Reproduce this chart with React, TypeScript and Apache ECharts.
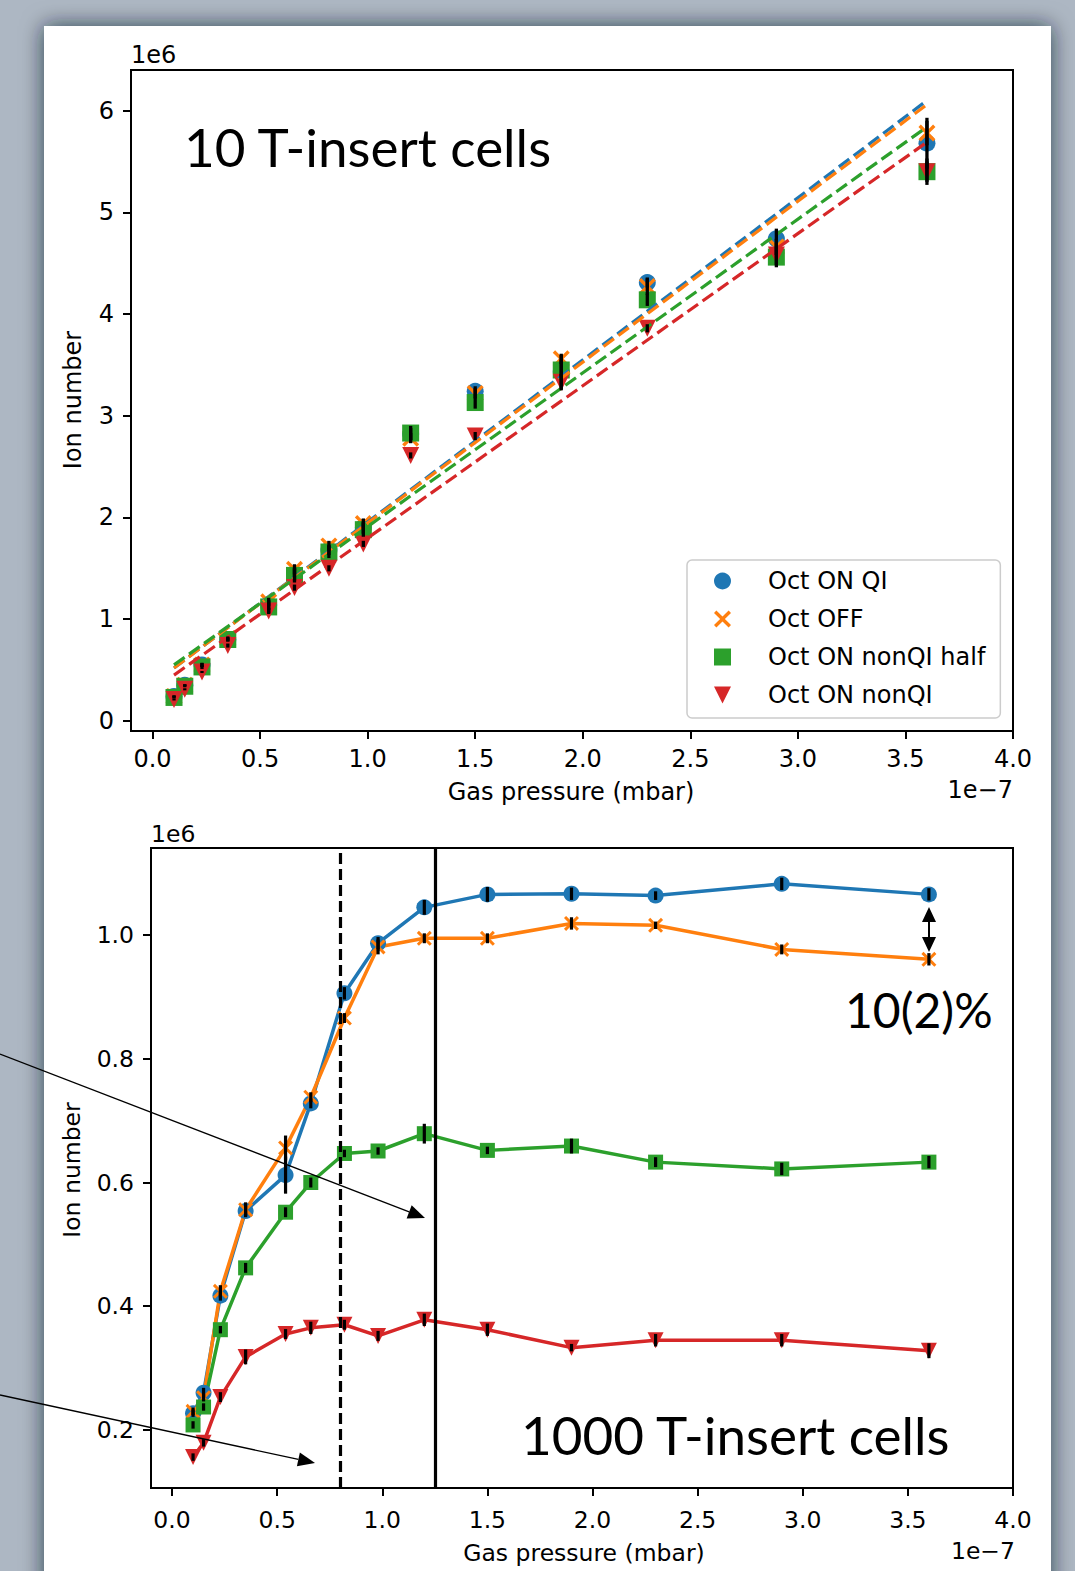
import React, { useEffect, useRef } from "react";
import * as echarts from "echarts";

// Gas pressure, in units of 1e-7 mbar (shared by both panels)
const pressure = [0.1, 0.15, 0.23, 0.35, 0.54, 0.66, 0.82, 0.98, 1.2, 1.5, 1.9, 2.3, 2.9, 3.6];

const seriesNames = ["Oct ON QI", "Oct OFF", "Oct ON nonQI half", "Oct ON nonQI"];

// Panel 1: 10 T-insert cells (ion number, units of 1e6)
const qi10 = [0.24, 0.35, 0.55, 0.8, 1.14, 1.44, 1.68, 1.9, 2.82, 3.24, 3.43, 4.31, 4.74, 5.68];
const off10 = [0.24, 0.35, 0.55, 0.81, 1.17, 1.49, 1.72, 1.94, 2.78, 3.22, 3.56, 4.27, 4.66, 5.78];
const half10 = [0.23, 0.34, 0.53, 0.8, 1.12, 1.43, 1.66, 1.88, 2.83, 3.13, 3.45, 4.14, 4.56, 5.4];
const non10 = [0.21, 0.31, 0.48, 0.74, 1.08, 1.31, 1.5, 1.74, 2.61, 2.8, 3.33, 3.86, 4.58, 5.4];

const qi10Err = [0.01, 0.01, 0.02, 0.02, 0.05, 0.06, 0.05, 0.06, 0.06, 0.05, 0.17, 0.05, 0.1, 0.25];
const off10Err = [0.01, 0.01, 0.02, 0.02, 0.04, 0.05, 0.05, 0.05, 0.05, 0.05, 0.05, 0.08, 0.08, 0.12];
const half10Err = [0.01, 0.01, 0.02, 0.02, 0.06, 0.07, 0.06, 0.07, 0.07, 0.06, 0.1, 0.06, 0.08, 0.1];
const non10Err = [0.01, 0.01, 0.01, 0.02, 0.03, 0.03, 0.03, 0.03, 0.03, 0.04, 0.08, 0.04, 0.12, 0.13];

// Linear fits (end points) for panel 1
const fitPressure = [0.1, 3.6];
const fitQI10 = [0.52, 6.1];
const fitOFF10 = [0.52, 6.06];
const fitHALF10 = [0.55, 5.84];
const fitNON10 = [0.45, 5.69];

// Panel 2: 1000 T-insert cells (ion number, units of 1e6)
const qi1000 = [0.227, 0.26, 0.417, 0.554, 0.612, 0.728, 0.906, 0.987, 1.045, 1.066, 1.067, 1.064, 1.083, 1.066];
const off1000 = [0.23, 0.252, 0.424, 0.556, 0.656, 0.738, 0.866, 0.981, 0.995, 0.995, 1.019, 1.016, 0.977, 0.961];
const half1000 = [0.208, 0.237, 0.362, 0.462, 0.552, 0.6, 0.647, 0.651, 0.679, 0.652, 0.659, 0.633, 0.622, 0.633];
const non1000 = [0.156, 0.179, 0.253, 0.318, 0.355, 0.365, 0.37, 0.352, 0.378, 0.362, 0.333, 0.345, 0.345, 0.328];

const qi1000Err = [0.006, 0.008, 0.008, 0.008, 0.03, 0.008, 0.01, 0.01, 0.012, 0.012, 0.01, 0.007, 0.01, 0.01];
const off1000Err = [0.006, 0.006, 0.01, 0.012, 0.02, 0.008, 0.008, 0.012, 0.008, 0.008, 0.01, 0.006, 0.008, 0.01];
const half1000Err = [0.006, 0.006, 0.006, 0.008, 0.008, 0.008, 0.006, 0.006, 0.016, 0.006, 0.012, 0.008, 0.01, 0.01];
const non1000Err = [0.006, 0.006, 0.008, 0.012, 0.008, 0.01, 0.008, 0.008, 0.01, 0.01, 0.006, 0.01, 0.01, 0.012];

// Vertical reference lines in panel 2 (1e-7 mbar)
const dashedMarker = 0.8;
const solidMarker = 1.25;

// Tick values
const xTicks = [0, 0.5, 1.0, 1.5, 2.0, 2.5, 3.0, 3.5, 4.0];
const yTicksTop = [0, 1, 2, 3, 4, 5, 6];
const yTicksBottom = [0.2, 0.4, 0.6, 0.8, 1.0];

const COLORS = ["#1f77b4", "#ff7f0e", "#2ca02c", "#d62728"];
const X_PATH = "path://M0,1.4L1.4,0L5,3.6L8.6,0L10,1.4L6.4,5L10,8.6L8.6,10L5,6.4L1.4,10L0,8.6L3.6,5Z";
const TRI_DOWN = "path://M0,0L10,0L5,10Z";
const SYMBOLS = ["circle", X_PATH, "rect", TRI_DOWN];
const TICK_FONT = "DejaVu Sans";
const SLIDE_FONT = "Lato";

function errSeries(idx: number, ys: number[], es: number[], lw: number) {
  return {
    type: "custom",
    name: "err" + idx,
    xAxisIndex: idx,
    yAxisIndex: idx,
    silent: true,
    z: 4,
    data: pressure.map((x, i) => [x, ys[i], es[i]]),
    encode: { x: 0, y: 1 },
    renderItem: (params: any, api: any) => {
      const x = api.value(0);
      const y = api.value(1);
      const e = api.value(2);
      const p1 = api.coord([x, y + e]);
      const p2 = api.coord([x, y - e]);
      return {
        type: "line",
        shape: { x1: p1[0], y1: p1[1], x2: p2[0], y2: p2[1] },
        style: { stroke: "#000", lineWidth: lw },
      };
    },
  };
}

function makeXAxis(gridIndex: number, fontSize: number, margin: number) {
  return {
    gridIndex,
    type: "value",
    min: -0.1,
    max: 4.0,
    axisLine: { show: true, onZero: false, lineStyle: { color: "#000", width: 2 } },
    axisTick: { show: true, length: 8, customValues: xTicks, lineStyle: { color: "#000", width: 2 } },
    axisLabel: {
      customValues: xTicks,
      formatter: (v: number) => v.toFixed(1),
      fontFamily: TICK_FONT,
      fontSize,
      color: "#000",
      margin,
    },
    splitLine: { show: false },
  };
}

function makeYAxis(gridIndex: number, min: number, max: number, ticks: number[], digits: number, fontSize: number, margin: number) {
  return {
    gridIndex,
    type: "value",
    min,
    max,
    axisLine: { show: true, onZero: false, lineStyle: { color: "#000", width: 2 } },
    axisTick: { show: true, length: 8, customValues: ticks, lineStyle: { color: "#000", width: 2 } },
    axisLabel: {
      customValues: ticks,
      formatter: (v: number) => v.toFixed(digits),
      fontFamily: TICK_FONT,
      fontSize,
      color: "#000",
      margin,
    },
    splitLine: { show: false },
  };
}

function txt(x: number, y: number, text: string, size: number, family: string, align: string, extra: any = {}) {
  return {
    type: "text",
    z: 60,
    x,
    y,
    silent: true,
    ...extra,
    style: {
      text,
      fontSize: size,
      fontFamily: family,
      fill: "#000",
      textAlign: align,
      align,
      textVerticalAlign: "middle",
      verticalAlign: "middle",
    },
  };
}

function arrowHead(tip: number[], from: number[], len: number, half: number) {
  const dx = tip[0] - from[0];
  const dy = tip[1] - from[1];
  const L = Math.sqrt(dx * dx + dy * dy);
  const ux = dx / L;
  const uy = dy / L;
  const bx = tip[0] - ux * len;
  const by = tip[1] - uy * len;
  return {
    base: [bx, by],
    points: [
      [tip[0], tip[1]],
      [bx - uy * half, by + ux * half],
      [bx + uy * half, by - ux * half],
    ],
  };
}

function arrow(from: number[], tip: number[], lw: number, len: number, half: number) {
  const h = arrowHead(tip, from, len, half);
  return [
    { type: "line", z: 70, silent: true, shape: { x1: from[0], y1: from[1], x2: h.base[0], y2: h.base[1] }, style: { stroke: "#000", lineWidth: lw } },
    { type: "polygon", z: 70, silent: true, shape: { points: h.points }, style: { fill: "#000" } },
  ];
}

function buildOption() {
  const topVals = [qi10, off10, half10, non10];
  const topErrs = [qi10Err, off10Err, half10Err, non10Err];
  const topFits = [fitQI10, fitOFF10, fitHALF10, fitNON10];
  const botVals = [qi1000, off1000, half1000, non1000];
  const botErrs = [qi1000Err, off1000Err, half1000Err, non1000Err];
  const botSizes = [16, 15, 15, 16];

  const series: any[] = [];
  for (let i = 0; i < 4; i++) {
    series.push({
      type: "scatter",
      name: seriesNames[i],
      xAxisIndex: 0,
      yAxisIndex: 0,
      data: pressure.map((x, j) => [x, topVals[i][j]]),
      symbol: SYMBOLS[i],
      symbolSize: 17,
      symbolKeepAspect: true,
      itemStyle: { color: COLORS[i], opacity: 1 },
      silent: true,
    });
    series.push(errSeries(0, topVals[i], topErrs[i], 3.3));
  }
  for (let i = 0; i < 4; i++) {
    series.push({
      type: "line",
      name: "fit " + seriesNames[i],
      xAxisIndex: 0,
      yAxisIndex: 0,
      data: fitPressure.map((x, j) => [x, topFits[i][j]]),
      symbol: "none",
      showSymbol: false,
      silent: true,
      z: 3,
      lineStyle: { color: COLORS[i], width: 3.2, type: [13, 5.5] },
    });
  }
  for (let i = 0; i < 4; i++) {
    series.push({
      type: "line",
      name: seriesNames[i],
      xAxisIndex: 1,
      yAxisIndex: 1,
      data: pressure.map((x, j) => [x, botVals[i][j]]),
      symbol: SYMBOLS[i],
      symbolSize: botSizes[i],
      symbolKeepAspect: true,
      showSymbol: true,
      silent: true,
      itemStyle: { color: COLORS[i], opacity: 1, borderWidth: 0 },
      lineStyle: { color: COLORS[i], width: 3.5 },
    });
    series.push(errSeries(1, botVals[i], botErrs[i], 3.2));
  }
  series.push({
    type: "line",
    name: "markers",
    xAxisIndex: 1,
    yAxisIndex: 1,
    data: [],
    silent: true,
    z: 5,
    markLine: {
      silent: true,
      symbol: ["none", "none"],
      label: { show: false },
      emphasis: { disabled: true },
      data: [
        { xAxis: dashedMarker, lineStyle: { color: "#000", width: 3.2, type: [11, 5] } },
        { xAxis: solidMarker, lineStyle: { color: "#000", width: 3.2, type: "solid" } },
      ],
    },
  });

  const graphic: any[] = [
    {
      type: "rect",
      z: -10,
      silent: true,
      shape: { x: 44, y: 26, width: 1007, height: 1620 },
      style: { fill: "#ffffff", shadowBlur: 22, shadowColor: "rgba(25,30,40,0.75)" },
    },
    txt(131, 55, "1e6", 24, TICK_FONT, "left"),
    txt(1013, 790, "1e\u22127", 24, TICK_FONT, "right"),
    txt(571, 792, "Gas pressure (mbar)", 24, TICK_FONT, "center"),
    txt(73, 400, "Ion number", 24, TICK_FONT, "center", { rotation: Math.PI / 2 }),
    txt(151, 834, "1e6", 23.5, TICK_FONT, "left"),
    txt(1015, 1551, "1e\u22127", 23.5, TICK_FONT, "right"),
    txt(584, 1553, "Gas pressure (mbar)", 23.5, TICK_FONT, "center"),
    txt(72, 1170, "Ion number", 23.5, TICK_FONT, "center", { rotation: Math.PI / 2 }),
    txt(184, 146, "10 T-insert cells", 53, SLIDE_FONT, "left"),
    txt(521, 1434, "1000 T-insert cells", 53, SLIDE_FONT, "left"),
    txt(845, 1009, "10(2)%", 48, SLIDE_FONT, "left"),
    ...arrow([0, 1054], [425, 1218], 1.3, 17, 7),
    ...arrow([0, 1395], [315, 1463], 1.3, 17, 7),
    ...arrow([929, 930], [929, 907], 2, 15, 7),
    ...arrow([929, 930], [929, 952], 2, 15, 7),
  ];

  return {
    animation: false,
    backgroundColor: "#adb7c3",
    grid: [
      { left: 131, top: 70, width: 882, height: 661, show: true, borderColor: "#000", borderWidth: 2, backgroundColor: "#fff" },
      { left: 151, top: 848, width: 862, height: 640, show: true, borderColor: "#000", borderWidth: 2, backgroundColor: "#fff" },
    ],
    xAxis: [makeXAxis(0, 24, 16), makeXAxis(1, 23.5, 20)],
    yAxis: [
      makeYAxis(0, -0.1, 6.4, yTicksTop, 0, 24, 17),
      makeYAxis(1, 0.106, 1.141, yTicksBottom, 1, 23.5, 17),
    ],
    legend: {
      data: seriesNames.map((name, i) => ({ name, icon: SYMBOLS[i] })),
      orient: "vertical",
      left: 687,
      top: 560,
      padding: [8, 15, 10, 27],
      itemGap: 12,
      itemWidth: 17,
      itemHeight: 17,
      selectedMode: false,
      backgroundColor: "rgba(255,255,255,0.8)",
      borderColor: "#cccccc",
      borderWidth: 1.5,
      borderRadius: 5,
      textStyle: { fontFamily: TICK_FONT, fontSize: 24, color: "#000", lineHeight: 26, padding: [0, 0, 0, 32] },
    },
    graphic,
    series,
  };
}

export default function App() {
  const ref = useRef<HTMLDivElement>(null);
  useEffect(() => {
    if (!ref.current) return;
    const chart = echarts.init(ref.current, undefined, { renderer: "svg", width: 1075, height: 1571 });
    chart.setOption(buildOption() as any);
    return () => chart.dispose();
  }, []);
  return <div ref={ref} style={{ position: "fixed", left: 0, top: 0, width: 1075, height: 1571 }} />;
}
